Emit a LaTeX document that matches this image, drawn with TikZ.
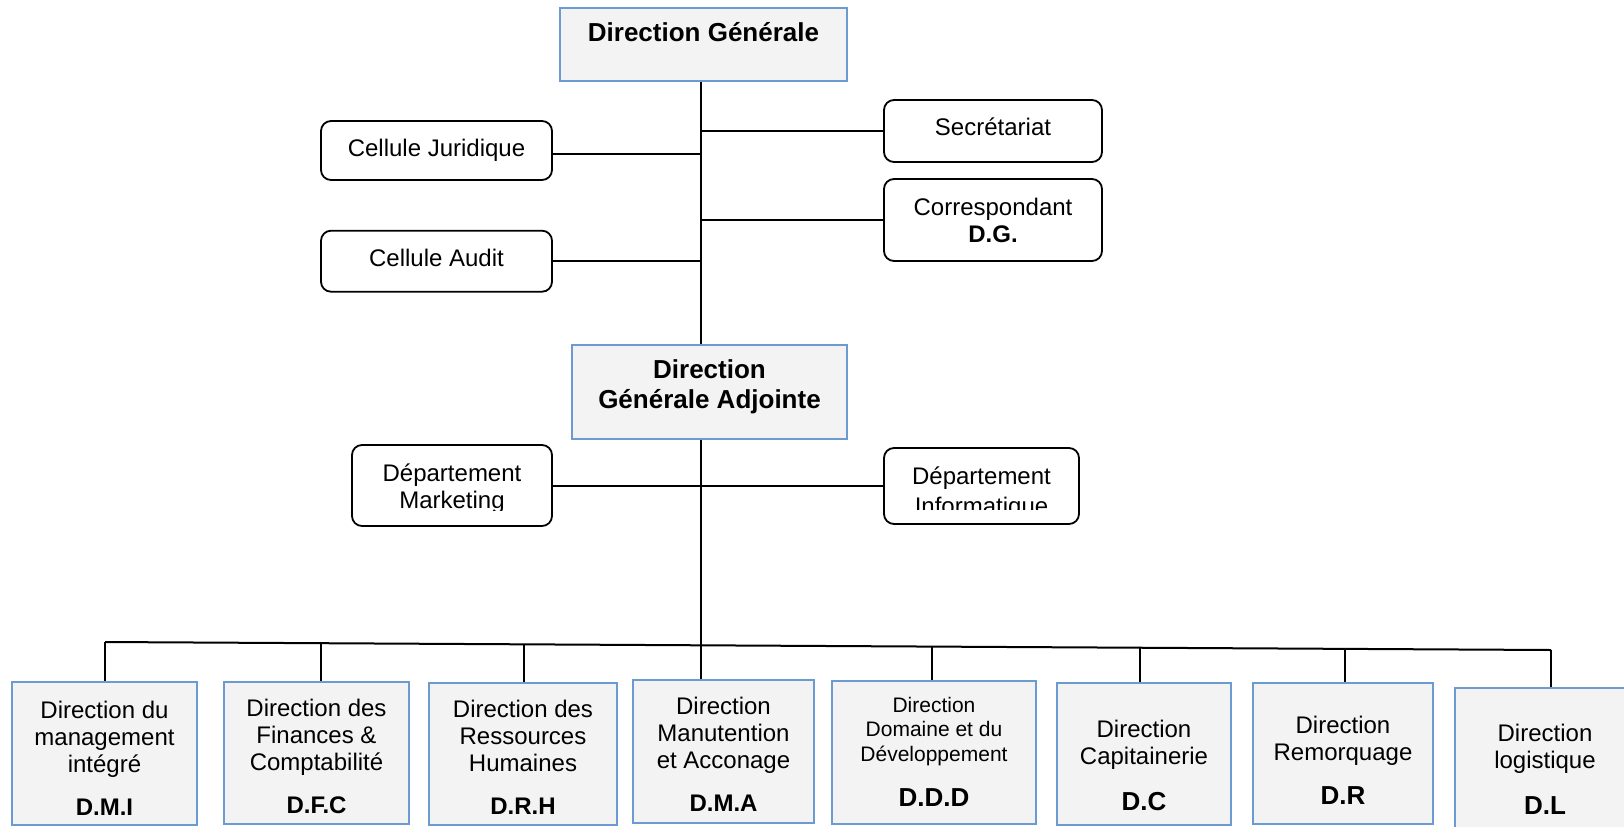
\documentclass[tikz,border=0pt]{standalone}
\usepackage{fontspec}
\setmainfont{Liberation Sans}
\usetikzlibrary{calc,positioning}
\definecolor{boxfill}{HTML}{F3F3F3}
\definecolor{boxline}{HTML}{6C9BD2}

\begin{document}
\begin{tikzpicture}[x=0.5pt, y=-0.5pt,
    dirbox/.style={rectangle, draw=boxline, fill=boxfill, line width=1pt, inner sep=0pt},
    cellbox/.style={rectangle, draw, line width=0.9pt, rounded corners=5pt, fill=white, align=center, inner sep=0pt, font=\fontsize{12}{13.5}\selectfont},
    dirtext/.style={align=center, inner sep=0pt},
    link/.style={line width=1pt}
]
    \useasboundingbox (0,0) rectangle (1624,826);

    % Direction generale
    \node[dirbox, minimum width=143.5pt, text height=16.9pt, text depth=19.6pt, font=\bfseries\fontsize{13}{15}\selectfont] (dg) at (703.5,44.5) {Direction Générale};
    \coordinate (trunk) at (701,81);

    % Cellules et secretariat
    \node[cellbox, minimum width=115.5pt, minimum height=29.5pt] (cj) at (436.5,150.5) {Cellule Juridique};
    \node[cellbox, minimum width=115.5pt, text height=17.9pt, text depth=12.6pt] (ca) at (436.5,261.2) {Cellule Audit};
    \node[cellbox, minimum width=109pt, text height=17.5pt, text depth=13.5pt] (sec) at (993,131) {Secrétariat};
    \node[cellbox, minimum width=109pt, minimum height=41pt] (cor) at (993,220) {Correspondant\\\textbf{D.G.}};

    % Direction generale adjointe
    \node[dirbox, minimum width=137.5pt, minimum height=47pt] (dga) at (709.5,392) {};
    \node[dirtext, anchor=north, font=\bfseries\fontsize{13}{15}\selectfont] (dgat) at ($(dga.north)+(0,15.5)$) {Direction\\Générale Adjointe};

    % Departements (texte coupe par le cadre)
    \node[cellbox, minimum width=100pt, minimum height=40.5pt] (dm) at (452,485.5) {};
    \node[cellbox, minimum width=97.5pt, minimum height=38pt] (di) at (981.5,486) {};
    \begin{scope}
        \clip (352,445) rectangle (552,510);
        \node[dirtext, anchor=north, font=\fontsize{12}{13.5}\selectfont] (dmt) at (452,463.5) {Département\\Marketing};
    \end{scope}
    \begin{scope}
        \clip (884,448) rectangle (1079,509);
        \node[dirtext, anchor=north, font=\fontsize{12}{15}\selectfont] (dit) at (981.5,466.5) {Département\\Informatique};
    \end{scope}

    % Liaisons du haut
    \draw[link] (trunk |- dg.south) -- (trunk |- dga.north);
    \draw[link] ([yshift=-1.7pt]cj.east) -- ([yshift=-1.7pt]cj.east -| trunk);
    \draw[link] (ca.east) -- (ca.east -| trunk);
    \draw[link] (sec.west) -- (sec.west -| trunk);
    \draw[link] (cor.west) -- (cor.west -| trunk);
    \draw[link] (dm.east) -- (dm.east -| di.west);

    % Barre des directions
    \coordinate (busL) at (105,642);
    \coordinate (busR) at (1551,650);
    \draw[link] (busL) -- (busR);

    % Directions
    \foreach \n/\cx/\cy/\w/\h/\lx/\ty/\fs/\bs/\txt in {
        dmi/104.5/753.5/185/143/105/20/12/13.5/{Direction du\\management\\intégré\\[8pt]\textbf{D.M.I}},
        dfc/316.5/753/185/142/321/17.5/12/13.5/{Direction des\\Finances \&\\Comptabilité\\[8pt]\textbf{D.F.C}},
        drh/523/754/188/142/524/17.5/12/13.5/{Direction des\\Ressources\\Humaines\\[8pt]\textbf{D.R.H}},
        dma/723.5/751.5/181/143/701/17.8/12/13.5/{Direction\\Manutention\\et Acconage\\[8pt]\textbf{D.M.A}},
        ddd/934/752.5/204/143/932/16.5/10.5/12.25/{Direction\\Domaine et du\\Développement\\[10.6pt]\textbf{\fontsize{13}{15}\selectfont D.D.D}},
        dc/1144/754/174/142/1140/37.4/12/13.5/{Direction\\Capitainerie\\[9.4pt]\textbf{\fontsize{13}{15}\selectfont D.C}},
        dr/1343/753.5/180/141/1345/33.4/12/13.5/{Direction\\Remorquage\\[8.8pt]\textbf{\fontsize{13}{15}\selectfont D.R}},
        dl/1545/759/180/142/1551/36.4/12/13.5/{Direction\\logistique\\[9.4pt]\textbf{\fontsize{13}{15}\selectfont D.L}}} {
        \node[dirbox, minimum width={\w*0.5pt}, minimum height={\h*0.5pt}] (\n) at (\cx,\cy) {};
        \node[dirtext, anchor=north, font=\fontsize{\fs}{\bs}\selectfont] (\n-t) at ($(\n.north)+(0,\ty)$) {\txt};
        \pgfmathsetmacro\busfrac{(\lx-105)/1446}
        \coordinate (\n-p) at ($(busL)!\busfrac!(busR)$);
        \draw[link] (\n-p) -- (\n-p |- \n.north);
    }
    \draw[link] (trunk |- dga.south) -- (trunk |- dma.north);
\end{tikzpicture}
\end{document}
